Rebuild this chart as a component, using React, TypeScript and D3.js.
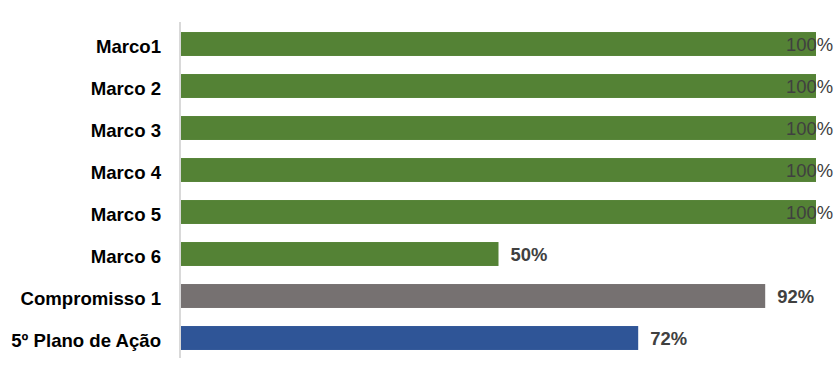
import React from "react";
import * as d3 from "d3";

const categories = ["Marco1", "Marco 2", "Marco 3", "Marco 4", "Marco 5", "Marco 6", "Compromisso 1", "5º Plano de Ação"];
const values = [1, 1, 1, 1, 1, 0.5, 0.92, 0.72];
const colors = ["#548235", "#548235", "#548235", "#548235", "#548235", "#548235", "#767171", "#2F5597"];

const W = 839, H = 382;
const margin = { left: 181, right: 23, top: 23, bottom: 23 };

export default function App() {
  const x = d3.scaleLinear().domain([0, 1]).range([margin.left, W - margin.right]);
  const y = d3.scaleBand().domain(categories).range([margin.top, H - margin.bottom]).paddingInner(0.43).paddingOuter(0.215);
  const font = "'Liberation Sans', Arial, sans-serif";
  const labelMax = 833;
  return (
    <svg width={W} height={H} style={{ position: "absolute", left: 0, top: 0 }}>
      {categories.map((c, i) => {
        const yb = y(c)!;
        const xe = x(values[i]);
        const cy = yb + y.bandwidth() / 2;
        const clamped = xe + 12 + 48 > labelMax;
        return (
          <g key={c}>
            <rect x={x(0)} y={yb} width={xe - x(0)} height={y.bandwidth()} fill={colors[i]} />
            <text x={161} y={cy + 8.5} textAnchor="end" fontFamily={font} fontWeight="bold" fontSize={18.6} fill="#000">{c}</text>
            <text x={clamped ? labelMax : xe + 12} y={cy + 6.6} textAnchor={clamped ? "end" : "start"} fontFamily={font} fontWeight={clamped ? "normal" : "bold"} fontSize={18.4} fill="#404040">{d3.format(".0%")(values[i])}</text>
          </g>
        );
      })}
      <line x1={180} x2={180} y1={22} y2={358} stroke="#d9d9d9" strokeWidth={2} />
    </svg>
  );
}
